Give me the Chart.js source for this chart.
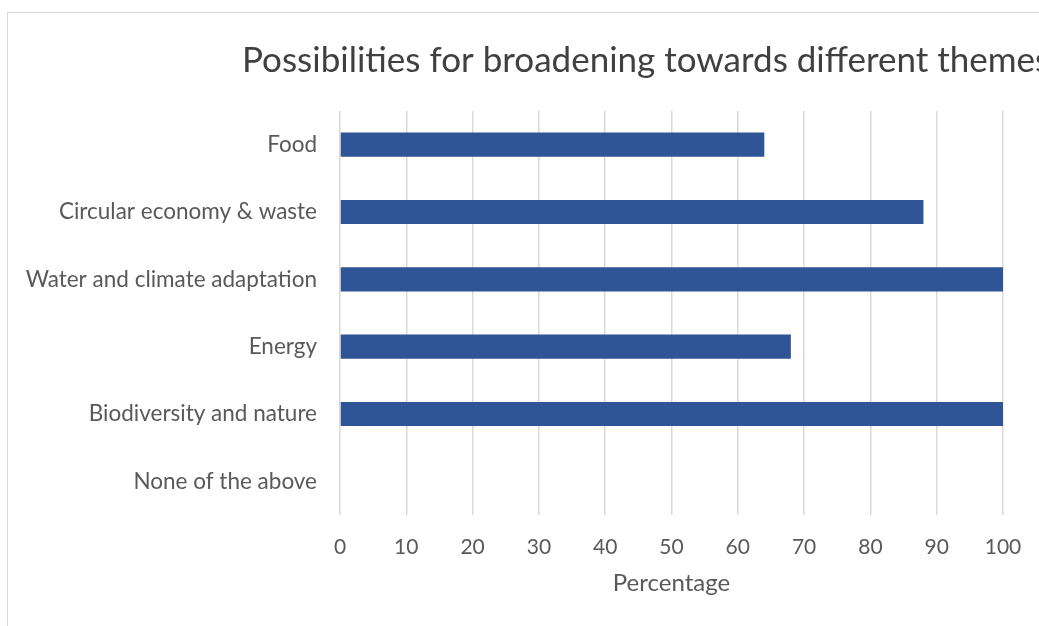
<!DOCTYPE html>
<html>
<head>
<meta charset="utf-8">
<script src="https://cdn.jsdelivr.net/npm/chart.js@4"></script>
<style>
  html, body { margin: 0; padding: 0; background: #fff; overflow: hidden; }
  #wrap { position: relative; width: 1039px; height: 626px; }
  #frame { position: absolute; left: 7px; top: 12px; right: -5px; bottom: -5px;
           border-left: 1.5px solid #d9d9d9; border-top: 1.5px solid #d9d9d9; }
  canvas { position: absolute; left: 0; top: 0; }
</style>
</head>
<body>
<div id="wrap">
  <div id="frame"></div>
  <canvas id="chart" width="1039" height="626"></canvas>
</div>
<script>
// Chart data
const categories = ['Food', 'Circular economy & waste', 'Water and climate adaptation', 'Energy', 'Biodiversity and nature', 'None of the above'];
const percentages = [64, 88, 100, 68, 100, 0];
const xTicks = [0, 10, 20, 30, 40, 50, 60, 70, 80, 90, 100];

const chartTitle = 'Possibilities for broadening towards different themes';
const FONT = "Lato, 'Open Sans', sans-serif";

// title is drawn off-centre (the original chart was cropped on the right)
const titlePlugin = {
    id: 'croppedTitle',
    afterDraw(chart) {
        const ctx = chart.ctx;
        ctx.save();
        ctx.font = '35px ' + FONT;
        ctx.fillStyle = '#404040';
        ctx.textAlign = 'left';
        ctx.textBaseline = 'alphabetic';
        ctx.fillText(chartTitle, 242, 72);
        ctx.restore();
    }
};

new Chart(document.getElementById('chart'), {
    type: 'bar',
    data: {
        labels: categories,
        datasets: [{
            label: 'Percentage',
            data: percentages,
            backgroundColor: '#2f5597',
            categoryPercentage: 1,
            barPercentage: 0.36
        }]
    },
    options: {
        indexAxis: 'y',
        responsive: false,
        animation: false,
        layout: { padding: { left: 8, right: 36, top: 111, bottom: 20 } },
        scales: {
            x: {
                min: 0,
                max: 100,
                afterBuildTicks: (scale) => { scale.ticks = xTicks.map(v => ({ value: v })); },
                afterFit: (scale) => { scale.height = 91; scale.paddingRight = 0; },
                grid: { color: '#d9d9d9', lineWidth: 1.5, drawTicks: false },
                border: { display: false },
                ticks: { color: '#595959', font: { family: FONT, size: 21 }, padding: 20 },
                title: { display: true, text: 'Percentage', color: '#595959', font: { family: FONT, size: 24 }, padding: { top: 8, bottom: 8 } }
            },
            y: {
                afterFit: (scale) => { scale.width = 332; },
                grid: { display: false },
                border: { display: false },
                ticks: { color: '#595959', font: { family: FONT, size: 22.5 }, padding: 15 }
            }
        },
        plugins: {
            legend: { display: false },
            tooltip: { enabled: false }
        }
    },
    plugins: [titlePlugin]
});
</script>
</body>
</html>
